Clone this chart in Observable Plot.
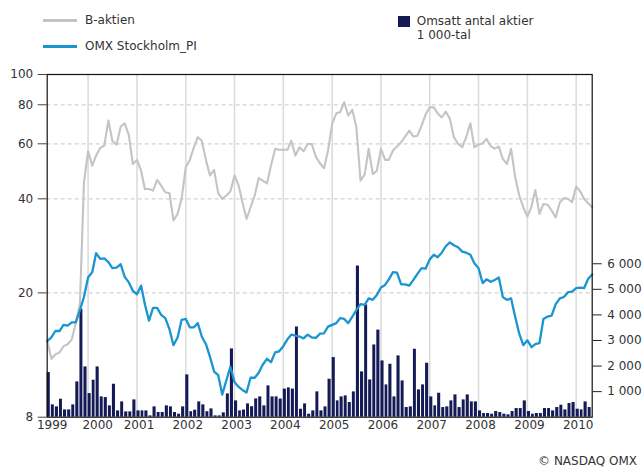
<!DOCTYPE html>
<html>
<head>
<meta charset="utf-8">
<script src="https://cdn.jsdelivr.net/npm/d3@7"></script>
<script src="https://cdn.jsdelivr.net/npm/@observablehq/plot@0.6"></script>
<style>
  body { margin: 0; background: #fff; font-family: "DejaVu Sans", sans-serif; color: #333; }
  #wrap { position: relative; width: 644px; height: 468px; overflow: hidden; }
  #legend { position: absolute; left: 0; top: 0; width: 644px; height: 60px; font-size: 12px; }
  #legend .sw, #legend .tx { position: absolute; }
  #legend .tx { line-height: 14px; white-space: nowrap; }
  #chart { position: absolute; left: 0; top: 60px; }
  #caption { position: absolute; right: 7px; top: 454px; font-size: 12px; line-height: 14px; color: #333; }
</style>
</head>
<body>
<div id="wrap">
  <div id="legend">
    <div class="sw" style="left:43px;top:18.5px;width:34px;height:3px;background:#c4c4c4"></div>
    <div class="tx" style="left:85px;top:13px">B-aktien</div>
    <div class="sw" style="left:43px;top:44.5px;width:34px;height:3px;background:#1995cf"></div>
    <div class="tx" style="left:85px;top:38.7px">OMX Stockholm_PI</div>
    <div class="sw" style="left:398px;top:16px;width:12px;height:11px;background:#131a55"></div>
    <div class="tx" style="left:416.7px;top:13.7px">Omsatt antal aktier</div>
    <div class="tx" style="left:416.7px;top:28px">1 000-tal</div>
  </div>
  <div id="chart"></div>
  <div id="caption">© NASDAQ OMX</div>
</div>
<script>
// Monthly series, March 1999 – May 2010
const bAktien = [
  14.1, 12.3, 12.7, 12.9, 13.5, 13.7, 14.2, 16.0, 18.5, 45.0,
  56.8, 51.1, 55.0, 58.2, 59.2, 71.2, 61.4, 59.6, 68.1, 69.8,
  64.0, 51.7, 53.3, 49.2, 43.0, 43.0, 42.5, 46.0, 44.1, 42.0,
  41.7, 34.1, 35.8, 40.0, 50.5, 53.3, 58.2, 63.0, 61.4, 53.3,
  47.5, 49.5, 41.7, 40.0, 41.0, 42.2, 47.5, 44.1, 39.0, 34.5,
  37.6, 41.0, 46.6, 45.7, 44.8, 51.1, 57.8, 57.4, 57.4, 57.4,
  61.4, 55.0, 58.5, 56.8, 59.9, 59.9, 54.5, 52.0, 50.1, 57.1,
  69.5, 75.1, 75.7, 81.5, 73.9, 77.0, 67.8, 45.7, 47.8, 57.8,
  48.0, 49.2, 57.8, 53.3, 53.3, 57.1, 58.8, 60.7, 63.3, 66.1,
  63.3, 63.7, 68.6, 74.4, 78.5, 78.5, 75.1, 72.9, 76.1, 72.1,
  63.0, 60.0, 58.5, 63.0, 69.8, 58.5, 59.6, 60.2, 62.2, 59.0,
  57.9, 58.8, 53.7, 51.7, 57.8, 47.1, 41.0, 37.6, 35.1, 37.8,
  42.7, 35.8, 38.5, 38.3, 36.7, 34.9, 39.0, 40.2, 40.0, 39.0,
  43.8, 42.2, 40.0, 38.7, 37.6
];
const omxPI = [
  14.0, 14.4, 15.1, 15.1, 15.8, 15.7, 16.1, 16.1, 17.6, 19.4,
  22.4, 23.3, 26.8, 25.7, 25.8, 25.1, 24.0, 24.1, 24.7, 22.5,
  21.6, 20.3, 19.8, 21.1, 18.4, 16.3, 17.9, 17.9, 17.0, 16.6,
  15.3, 13.6, 14.4, 16.4, 16.5, 15.5, 15.5, 16.0, 14.5, 13.7,
  12.5, 11.2, 10.9, 9.45, 10.5, 11.6, 10.35, 10.0, 9.78, 9.6,
  10.7, 10.7, 11.1, 11.8, 12.3, 12.0, 12.9, 13.0, 13.5, 14.2,
  14.7, 14.6, 14.5, 14.3, 14.7, 14.4, 14.35, 14.8, 14.85, 15.6,
  15.8, 16.0, 16.6, 16.5, 16.0, 16.8, 17.6, 18.4, 18.3, 19.2,
  19.0, 19.7, 20.8, 21.2, 22.1, 23.3, 23.2, 21.3, 21.3, 21.1,
  22.0, 23.0, 24.0, 23.9, 25.6, 26.5, 26.0, 26.9, 28.2, 29.0,
  28.4, 28.0, 27.1, 26.9, 26.5, 24.9, 24.0, 21.5, 22.1, 21.7,
  22.0, 22.4, 19.4, 19.0, 19.2, 16.8, 14.8, 13.6, 14.1, 13.4,
  13.7, 13.8, 16.5, 16.8, 16.9, 18.4, 19.2, 19.4, 20.1, 20.2,
  20.7, 20.8, 20.7, 22.2, 22.9
];
// Traded shares, thousands (March 1999 – April 2010)
const volume = [
  1745, 482, 404, 703, 286, 286, 482, 1380, 4218, 1966,
  924, 1445, 1966, 794, 768, 443, 1289, 247, 599, 208,
  208, 677, 247, 247, 247, 52, 404, 182, 182, 443,
  404, 182, 117, 404, 1654, 215, 273, 599, 482, 215,
  325, 52, 52, 170, 910, 2670, 638, 247, 280, 520,
  410, 716, 794, 443, 1224, 794, 794, 710, 1100, 1146,
  1100, 3528, 312, 520, 117, 247, 990, 247, 404, 1484,
  2331, 638, 794, 833, 573, 990, 5911, 1771, 4388, 1458,
  2825, 3405, 2200, 1263, 2070, 794, 2396, 1419, 378, 404,
  2656, 1068, 1263, 2109, 794, 443, 937, 378, 404, 638,
  872, 378, 677, 872, 599, 599, 247, 143, 143, 117,
  221, 182, 117, 91, 221, 338, 338, 638, 221, 117,
  143, 143, 338, 338, 247, 378, 469, 286, 534, 573,
  312, 286, 599, 378
];
const leftTicks = [8, 20, 40, 60, 80, 100];
const gridValues = [20, 40, 60, 80];
const rightTicks = [1000, 2000, 3000, 4000, 5000, 6000];
const rightLabels = ["1 000", "2 000", "3 000", "4 000", "5 000", "6 000"];
const yearLabels = ["1999", "2000", "2001", "2002", "2003", "2004", "2005", "2006", "2007", "2008", "2009", "2010"];
const gridYears = [2000, 2001, 2002, 2003, 2004, 2005, 2006, 2007, 2008, 2009, 2010];

const start = new Date(Date.UTC(1999, 2, 1));
const end = new Date(Date.UTC(2010, 4, 1));
const monthAt = i => d3.utcMonth.offset(start, i);

// Right axis (volume, linear 0..VMAX) mapped onto the left log scale 8..100
const VMAX = 13400;
const toY = v => 8 * Math.pow(100 / 8, v / VMAX);

const lineRows = bAktien.map((v, i) => ({date: monthAt(i), b: v, omx: omxPI[i]}));
const barRows = volume.map((v, i) => ({d1: monthAt(i), d2: monthAt(i + 1), v}));
const rightMap = new Map(rightTicks.map((t, i) => [toY(t), rightLabels[i]]));

const labelRows = yearLabels.map(y => ({label: y, date: y === "1999" ? start : new Date(Date.UTC(+y, 0, 1))}));

const chart = Plot.plot({
  width: 644,
  height: 392,
  marginTop: 14,
  marginBottom: 35.3,
  marginLeft: 46.7,
  marginRight: 52.3,
  style: {fontFamily: "DejaVu Sans, sans-serif", fontSize: "12px", color: "#333", background: "#fff", overflow: "visible"},
  x: {type: "utc", domain: [start, end], axis: null},
  y: {type: "log", domain: [8, 100], axis: null},
  marks: [
    Plot.ruleX(gridYears.map(y => new Date(Date.UTC(y, 0, 1))), {stroke: "#dcdcdc", strokeWidth: 1.6}),
    Plot.ruleY(gridValues, {stroke: "#d4d4d4", strokeWidth: 1.3, strokeDasharray: "4 3"}),
    Plot.rectY(barRows, {x1: "d1", x2: "d2", y1: 8, y2: d => toY(d.v), fill: "#131a55", insetRight: 1.05}),
    Plot.line(lineRows, {x: "date", y: "b", stroke: "#c4c4c4", strokeWidth: 2.1, curve: "linear"}),
    Plot.line(lineRows, {x: "date", y: "omx", stroke: "#1995cf", strokeWidth: 2.3, curve: "linear"}),
    Plot.frame({stroke: "#111", strokeWidth: 1.2}),
    Plot.axisY({anchor: "left", ticks: leftTicks, tickFormat: d => String(d), tickSize: 9, tickPadding: 5, stroke: "#444", fill: "#333", fontSize: 12}),
    Plot.axisY({anchor: "right", ticks: rightTicks.map(toY), tickFormat: d => rightMap.get(d), tickSize: 9, tickPadding: 6, stroke: "#222", fill: "#333", fontSize: 12}),
    Plot.text(labelRows.filter(d => d.label === "1999"), {x: "date", text: "label", frameAnchor: "bottom", dy: 11.5, dx: 5, fill: "#333", fontSize: 12}),
    Plot.text(labelRows.filter(d => d.label === "2000"), {x: "date", text: "label", frameAnchor: "bottom", dy: 11.5, dx: 9.6, fill: "#333", fontSize: 12}),
    Plot.text(labelRows.filter(d => d.label !== "1999" && d.label !== "2000"), {x: "date", text: "label", frameAnchor: "bottom", dy: 11.5, dx: 2, fill: "#333", fontSize: 12})
  ]
});
document.getElementById("chart").appendChild(chart);
</script>
</body>
</html>
